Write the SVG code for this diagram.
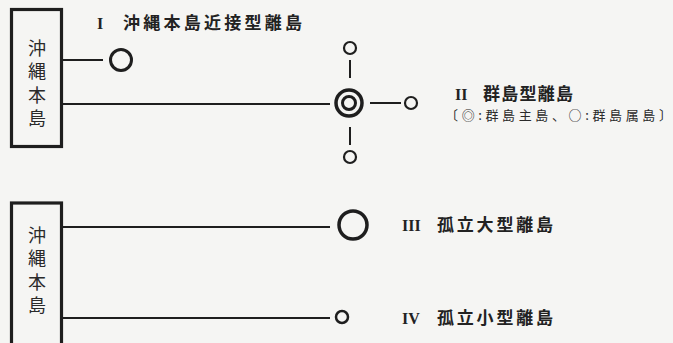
<svg xmlns="http://www.w3.org/2000/svg" width="673" height="343" viewBox="0 0 673 343">
<style>
.box{fill:none;stroke:#1e1e1e;stroke-width:3.2}
.ln{stroke:#1e1e1e;stroke-width:2;fill:none}
.c{fill:none;stroke:#1e1e1e}
.bt{font-family:"Noto Sans CJK JP",sans-serif;font-size:18px;fill:#2a2a2a;writing-mode:vertical-rl;letter-spacing:5.5px}
.tt{font-family:"Noto Sans CJK JP",sans-serif;font-size:17px;font-weight:bold;fill:#222}
.rn{font-family:"Liberation Serif",serif;font-size:16px;font-weight:bold;fill:#222}
.st{font-family:"Noto Sans CJK JP",sans-serif;font-size:13px;fill:#2a2a2a}
</style>
<rect width="673" height="343" fill="#f5f5f3"/>
<g id="connectors">
<line class="ln" x1="63" y1="60" x2="103" y2="60"/>
<line class="ln" x1="63" y1="104" x2="330" y2="104"/>
<line class="ln" x1="370" y1="103" x2="401" y2="103"/>
<line class="ln" x1="350" y1="60" x2="350" y2="78"/>
<line class="ln" x1="350" y1="127" x2="350" y2="145"/>
<line class="ln" x1="63" y1="227" x2="330" y2="227"/>
<line class="ln" x1="63" y1="318" x2="330" y2="318"/>
</g>
<g id="mainland1">
<rect class="box" x="11.5" y="9.5" width="50" height="137"/>
<text class="bt" x="37" y="39">沖縄本島</text>
</g>
<g id="mainland2">
<rect class="box" x="11.5" y="203" width="50" height="150"/>
<text class="bt" x="37" y="226">沖縄本島</text>
</g>
<g id="type1">
<circle class="c" cx="121" cy="60" r="10.5" stroke-width="3"/>
<text class="rn" x="97" y="29">I</text>
<text class="tt" x="123" y="29" font-size="18" textLength="179">沖縄本島近接型離島</text>
</g>
<g id="type2">
<circle class="c" cx="349" cy="103" r="13" stroke-width="3.5"/>
<circle class="c" cx="349" cy="103" r="6.5" stroke-width="3"/>
<circle class="c" cx="350" cy="48" r="6" stroke-width="2.2"/>
<circle class="c" cx="411" cy="103" r="6" stroke-width="2.2"/>
<circle class="c" cx="350" cy="157" r="6" stroke-width="2.2"/>
<text class="rn" x="455" y="100">II</text>
<text class="tt" x="483" y="100" font-size="16" textLength="90">群島型離島</text>
<text class="st" x="445" y="120" textLength="227">〔◎:群島主島、○:群島属島〕</text>
</g>
<g id="type3">
<circle class="c" cx="353" cy="225" r="14" stroke-width="3.5"/>
<text class="rn" x="402" y="231">III</text>
<text class="tt" x="437" y="231" textLength="116">孤立大型離島</text>
</g>
<g id="type4">
<circle class="c" cx="342" cy="317" r="6" stroke-width="2.5"/>
<text class="rn" x="402" y="324">IV</text>
<text class="tt" x="437" y="324" textLength="116">孤立小型離島</text>
</g>
</svg>
